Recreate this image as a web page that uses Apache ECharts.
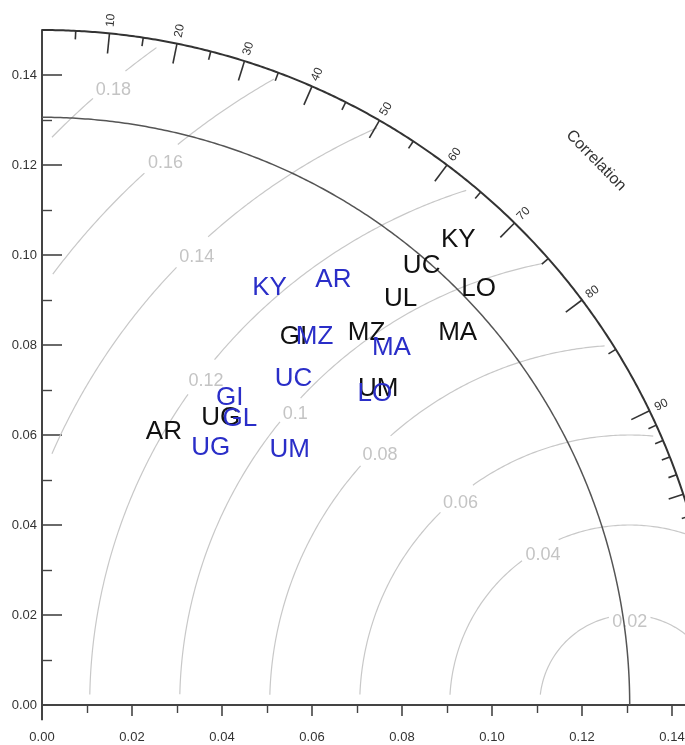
<!DOCTYPE html>
<html><head><meta charset="utf-8">
<script src="https://cdn.jsdelivr.net/npm/echarts@6/dist/echarts.min.js"></script>
<style>html,body{margin:0;padding:0;background:#fff}#c{width:685px;height:745px}</style>
</head><body><div id="c"></div>
<script>
// ---- data ----
const refStd = 0.1306;
const maxStd = 0.15;
const sitesA = ['KY','UC','LO','UL','MA','MZ','GI','UM','UG','AR'];
const stdA   = [0.1387,0.1290,0.1340,0.1204,0.1240,0.1098,0.0991,0.1025,0.0752,0.0664];
const corA   = [0.667,0.654,0.724,0.662,0.745,0.657,0.564,0.729,0.528,0.408];
const sitesB = ['KY','AR','MZ','MA','UC','GI','GL','UG','UM','LO'];
const stdB   = [0.1056,0.1146,0.1018,0.1111,0.0916,0.0799,0.0774,0.0683,0.0791,0.1013];
const corB   = [0.479,0.565,0.595,0.699,0.610,0.522,0.568,0.549,0.696,0.730];
const stdTicks = [0,0.02,0.04,0.06,0.08,0.10,0.12,0.14];
const stdMinorTicks = [0.01,0.03,0.05,0.07,0.09,0.11,0.13];
const corrMajor = [0.1,0.2,0.3,0.4,0.5,0.6,0.7,0.8,0.9];
const corrMajorText = ['10','20','30','40','50','60','70','80','90'];
const corrMinor = [0.05,0.15,0.25,0.35,0.45,0.55,0.65,0.75,0.85,0.91,0.92,0.93,0.94,0.96,0.97,0.98,0.99];
const corrMid = [0.95];
const rmsLevels = [0.02,0.04,0.06,0.08,0.10,0.12,0.14,0.16,0.18];
const rmsText = ['0.02','0.04','0.06','0.08','0.1','0.12','0.14','0.16','0.18'];
const rmsLabelAngle = [90,120,130,135,139,142.6,134,130.6,130];

// ---- helpers ----
const PX = 4500; // px per unit (grid 675px for 0.15)
const FONT = '"Liberation Sans", Arial, Helvetica, sans-serif';
function polar(r, c){ return [r*c, r*Math.sqrt(Math.max(0,1-c*c))]; }
function arcPts(r, a0, a1, n){ const p=[]; for(let i=0;i<=n;i++){const a=a0+(a1-a0)*i/n; p.push([r*Math.cos(a), r*Math.sin(a)]);} return p; }
const hiddenItem = {color:'rgba(0,0,0,0)', opacity:1};

const series = [];
// RMS arcs
rmsLevels.forEach((r, k) => {
  const halfPx = (rmsText[k].length === 3 ? 15 : 21);
  const gapHalf = (halfPx / PX) / r * 180 / Math.PI;
  let cur = [];
  const segs = [];
  for (let i = 0; i <= 1440; i++) {
    const a = Math.PI * i / 1440, deg = 180 * i / 1440;
    const x = refStd + r * Math.cos(a), y = r * Math.sin(a);
    const ok = x >= 0.0022 && y >= 0.0022 && Math.hypot(x, y) <= 0.1484 && Math.abs(deg - rmsLabelAngle[k]) > gapHalf;
    if (ok) cur.push([x, y]); else if (cur.length) { segs.push(cur); cur = []; }
  }
  if (cur.length) segs.push(cur);
  segs.forEach(s => series.push({type:'line', data:s, showSymbol:false, silent:true, clip:false, z:1,
    lineStyle:{color:'#c8c8c8', width:1.2}}));
});
// RMS labels
series.push({type:'scatter', symbolSize:1, itemStyle:hiddenItem, silent:true, clip:false, z:2,
  data: rmsLevels.map((r,k)=>{ const a=rmsLabelAngle[k]*Math.PI/180, rr=r-0.0015;
    return {name:rmsText[k], value:[refStd+rr*Math.cos(a), rr*Math.sin(a)]}; }),
  label:{show:true, position:'inside', formatter:'{b}', color:'#c4c4c4', fontSize:18, fontFamily:FONT}});
// reference arc
series.push({type:'line', data:arcPts(refStd,0,Math.PI/2,300), showSymbol:false, silent:true, clip:false, z:3,
  lineStyle:{color:'#555', width:1.5}});
// outer arc
series.push({type:'line', data:arcPts(maxStd,0,Math.PI/2,400), showSymbol:false, silent:true, clip:false, z:3,
  lineStyle:{color:'#333', width:2}});
// y-axis extension below origin
series.push({type:'line', data:[[0,0],[0,-0.0034]], showSymbol:false, silent:true, clip:false, z:3,
  lineStyle:{color:'#444', width:2}});
// correlation ticks
const tickData = corrMajor.map(c=>[c,0.0045]).concat(corrMinor.map(c=>[c,0.0019])).concat(corrMid.map(c=>[c,0.0034]));
series.push({type:'custom', data:tickData, silent:true, z:3, clip:false,
  renderItem(params, api){
    const c=api.value(0), L=api.value(1);
    const p1=api.coord(polar(maxStd,c)), p2=api.coord(polar(maxStd-L,c));
    return {type:'line', shape:{x1:p1[0],y1:p1[1],x2:p2[0],y2:p2[1]}, style:{stroke:'#333', lineWidth:1.6}};
  }});
// correlation labels
series.push({type:'scatter', symbolSize:1, itemStyle:hiddenItem, silent:true, clip:false, z:4,
  data: corrMajor.map((c,k)=>({name:corrMajorText[k], value:polar(0.1529,c),
    label:{rotate: Math.acos(c)*180/Math.PI}})),
  label:{show:true, position:'inside', formatter:'{b}', color:'#333', fontSize:12, fontFamily:FONT}});
// "Correlation" title
series.push({type:'scatter', symbolSize:1, itemStyle:hiddenItem, silent:true, clip:false, z:4,
  data:[{name:'Correlation', value:polar(0.1726, Math.cos(44.5*Math.PI/180))}],
  label:{show:true, position:'inside', formatter:'{b}', color:'#333', fontSize:16, fontFamily:FONT, rotate:-45.5}});
// data labels
function siteSeries(names, stds, cors, color){
  return {type:'scatter', symbolSize:1, itemStyle:hiddenItem, silent:true, clip:false, z:5,
    data: names.map((n,i)=>({name:n, value:polar(stds[i], cors[i])})),
    label:{show:true, position:'inside', formatter:'{b}', color:color, fontSize:26, fontFamily:FONT, opacity:1}};
}
series.push(siteSeries(sitesA, stdA, corA, '#111'));
series.push(siteSeries(sitesB, stdB, corB, '#2a2ec8'));

const axisCommon = {type:'value', min:0, max:maxStd, splitLine:{show:false}};
const option = {
  animation:false,
  backgroundColor:'#fff',
  grid:{left:42, top:30, width:675, height:675, containLabel:false, outerBoundsMode:'none'},
  xAxis:[
    Object.assign({}, axisCommon, {position:'bottom',
      axisLine:{show:true, onZero:false, lineStyle:{color:'#444', width:2}},
      axisTick:{show:true, inside:false, length:11, customValues:stdTicks, lineStyle:{color:'#444', width:1.6}},
      axisLabel:{customValues:stdTicks, margin:26, color:'#333', fontSize:13, fontFamily:FONT, formatter:v=>v.toFixed(2)}}),
    Object.assign({}, axisCommon, {position:'bottom', offset:0,
      axisLine:{show:false},
      axisTick:{show:true, inside:false, length:8, customValues:stdMinorTicks, lineStyle:{color:'#444', width:1.4}},
      axisLabel:{show:false}})
  ],
  yAxis:[
    Object.assign({}, axisCommon, {position:'left',
      axisLine:{show:true, onZero:false, lineStyle:{color:'#444', width:2}},
      axisTick:{show:true, inside:true, length:20, customValues:stdTicks, lineStyle:{color:'#444', width:1.6}},
      axisLabel:{customValues:stdTicks, margin:5, color:'#333', fontSize:13, fontFamily:FONT, formatter:v=>v.toFixed(2)}}),
    Object.assign({}, axisCommon, {position:'left', offset:0,
      axisLine:{show:false},
      axisTick:{show:true, inside:true, length:10, customValues:stdMinorTicks, lineStyle:{color:'#444', width:1.4}},
      axisLabel:{show:false}})
  ],
  series: series
};
const chart = echarts.init(document.getElementById('c'), null, {renderer:'canvas'});
chart.setOption(option);
</script>
</body></html>
